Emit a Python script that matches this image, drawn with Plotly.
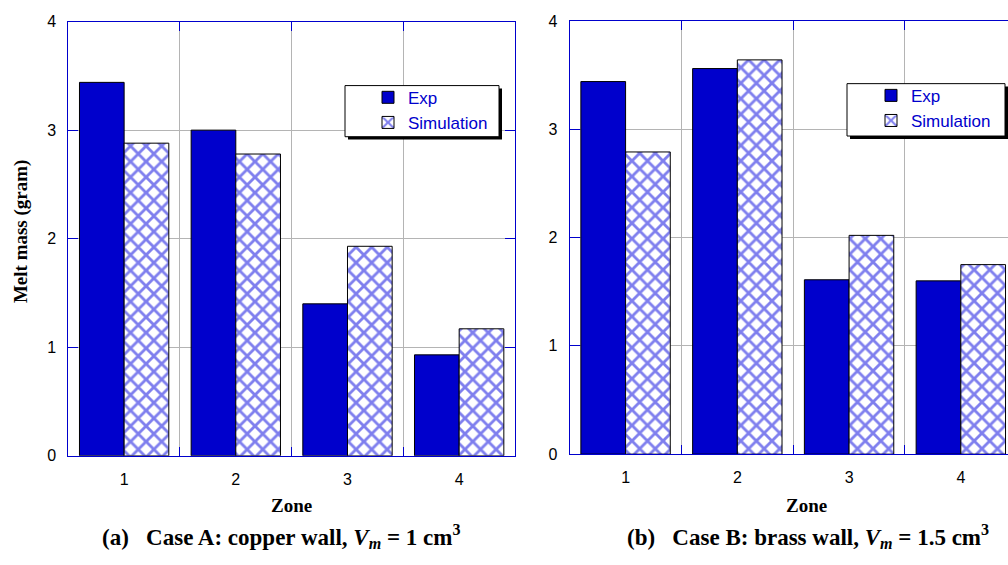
import plotly.graph_objects as go

zones = ["1", "2", "3", "4"]
exp_a = [3.44, 3.00, 1.40, 0.93]
sim_a = [2.88, 2.78, 1.93, 1.17]
exp_b = [3.44, 3.56, 1.61, 1.60]
sim_b = [2.79, 3.64, 2.02, 1.75]
y_ticks = [0, 1, 2, 3, 4]

BLUE = "#0000CC"
HATCH = "#0000DD"
GRID = "#b4b4b4"
W, H = 1008, 565

def px(x):
    return x / W

def py(y):
    return 1 - y / H

fig = go.Figure()

def add_pair(exp, sim, xa, ya, legend):
    fig.add_trace(go.Bar(
        x=zones, y=exp, name="Exp", xaxis=xa, yaxis=ya, legend=legend,
        marker=dict(color=BLUE, line=dict(color="black", width=1)),
    ))
    fig.add_trace(go.Bar(
        x=zones, y=sim, name="Simulation", xaxis=xa, yaxis=ya, legend=legend,
        marker=dict(color="white", line=dict(color="black", width=1),
                    pattern=dict(shape="x", fgcolor=HATCH, bgcolor="white",
                                 size=11, solidity=0.45)),
    ))

add_pair(exp_a, sim_a, "x", "y", "legend")
add_pair(exp_b, sim_b, "x2", "y2", "legend2")

tickfont = dict(family="Liberation Sans, Arial", size=16, color="black")

xcommon = dict(type="category", tickson="boundaries", showgrid=True, gridcolor=GRID,
               gridwidth=1, ticks="inside", ticklen=9, tickcolor=BLUE, showline=True,
               linecolor=BLUE, linewidth=1, tickfont=tickfont, ticklabelstandoff=9,
               zeroline=False, fixedrange=True)
ycommon = dict(range=[0, 4], tickvals=y_ticks, showgrid=True, gridcolor=GRID, gridwidth=1,
               ticks="inside", ticklen=10, tickcolor=BLUE, showline=True, linecolor=BLUE,
               linewidth=1, tickfont=tickfont, ticklabelstandoff=8, zeroline=False,
               fixedrange=True)

fig.update_layout(
    width=W, height=H,
    margin=dict(l=0, r=0, t=0, b=0),
    paper_bgcolor="white", plot_bgcolor="white",
    barmode="group", bargap=0.2, bargroupgap=0,
    xaxis=dict(**xcommon, domain=[px(68.3), px(515)], range=[-0.5, 3.5], mirror="ticks", anchor="y"),
    yaxis=dict(**ycommon, domain=[py(461.7), py(14)], mirror="ticks", anchor="x"),
    xaxis2=dict(**xcommon, domain=[px(569.7), 1.0], range=[-0.5, 3.5 - (1016.7 - 1008) / 111.75],
                mirror="ticks", anchor="y2"),
    yaxis2=dict(**ycommon, domain=[py(460), py(13.3)], mirror=False, anchor="x2"),
    showlegend=True,
)

legend_font = dict(family="Liberation Sans, Arial", size=17, color=BLUE)
fig.update_layout(
    legend=dict(x=px(368), y=py(74), xanchor="left", yanchor="top",
                bgcolor="rgba(0,0,0,0)", borderwidth=0, font=legend_font,
                tracegroupgap=0, itemclick=False),
    legend2=dict(x=px(871), y=py(72), xanchor="left", yanchor="top",
                 bgcolor="rgba(0,0,0,0)", borderwidth=0, font=legend_font,
                 tracegroupgap=0, itemclick=False),
)

shapes = []
for (x0, y0, x1, y1) in [(345, 80, 499, 132.7), (847, 78, 1005, 132)]:
    shapes.append(dict(type="rect", xref="paper", yref="paper",
                       x0=px(x0 + 3), x1=px(x1 + 3), y0=py(y1 + 3), y1=py(y0 + 3),
                       fillcolor="black", line=dict(width=0), layer="above"))
    shapes.append(dict(type="rect", xref="paper", yref="paper",
                       x0=px(x0), x1=px(x1), y0=py(y1), y1=py(y0),
                       fillcolor="white", line=dict(color="black", width=1), layer="above"))
fig.update_layout(shapes=shapes)

serif = "Liberation Serif, Times New Roman"
nb = "\u00a0"

def ann(text, x, y, size, angle=0):
    return dict(text=text, x=px(x), y=py(y), xref="paper", yref="paper",
                xanchor="center", yanchor="middle", textangle=angle, showarrow=False,
                font=dict(family=serif, size=size, color="black"))

annotations = [
    ann("<b>Melt mass (gram)</b>", 21, 230, 19, -90),
    ann("<b>Zone</b>", 291, 513, 19),
    ann("<b>Zone</b>", 806, 513, 19),
    ann("<b>(a)" + nb * 3 + "Case A: copper wall, <i>V<sub>m</sub></i> = 1 cm<sup>3</sup></b>",
        281, 545, 23),
    ann("<b>(b)" + nb * 3 + "Case B: brass wall, <i>V<sub>m</sub></i> = 1.5 cm<sup>3</sup></b>",
        808, 545, 23),
]
fig.update_layout(annotations=annotations)

fig.write_html("out.html")
